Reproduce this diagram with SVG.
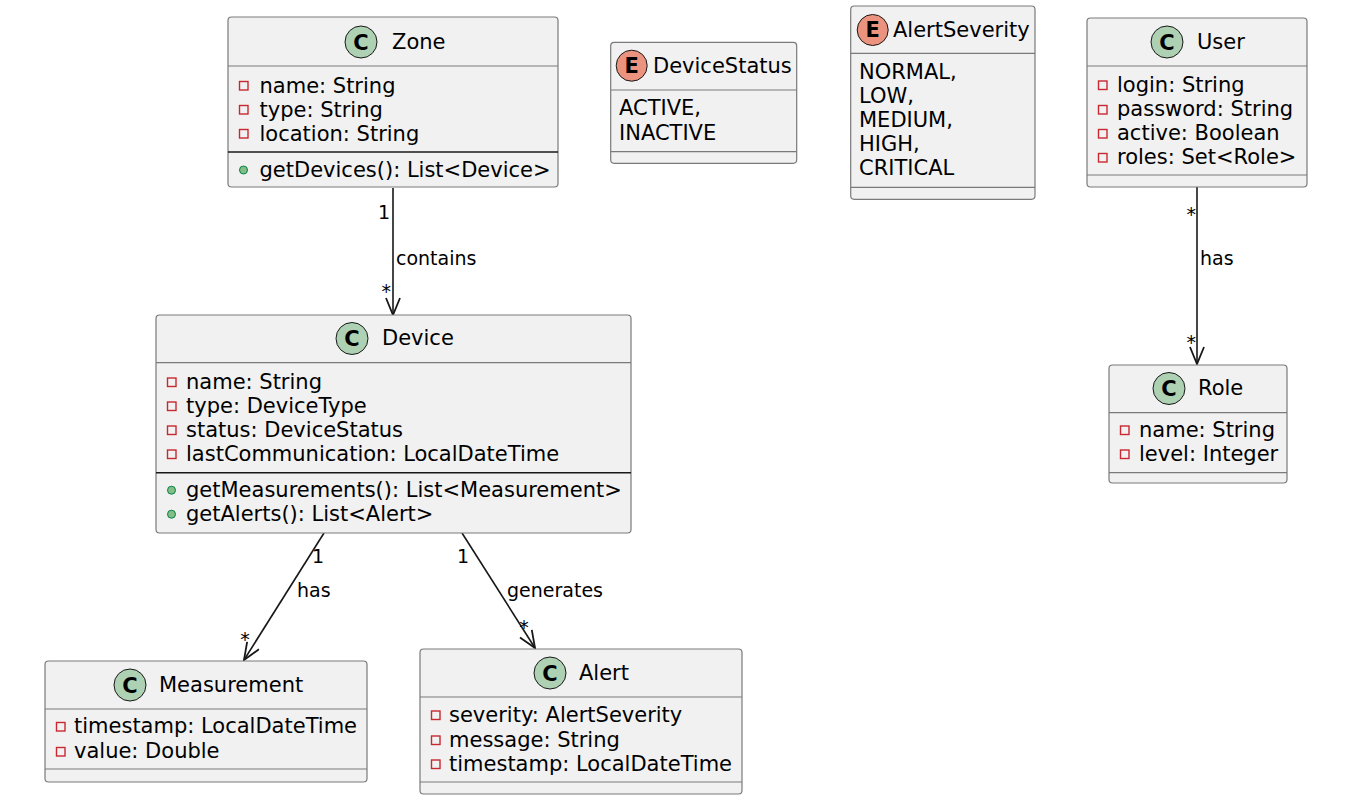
<svg xmlns="http://www.w3.org/2000/svg" width="1351" height="801" viewBox="0 0 1351 801">
<defs>
<style>
text{font-family:"DejaVu Sans","Liberation Sans",sans-serif;fill:#000}
.box{fill:#F1F1F1;stroke:#7a7a7a;stroke-width:1.2}
.sep{stroke:#7a7a7a;stroke-width:1.2}
.msep{stroke:#181818;stroke-width:1.5}
.t{font-size:21px}
.lbl{font-size:19px}
.cc{fill:#ADD1B2;stroke:#181818;stroke-width:1}
.ec{fill:#EB937F;stroke:#181818;stroke-width:1}
.ic{font-size:21px;font-weight:bold;text-anchor:middle}
.priv{fill:none;stroke:#C82930;stroke-width:1.4}
.pub{fill:#84BE84;stroke:#038048;stroke-width:1}
.edge{stroke:#181818;stroke-width:1.6;fill:none;marker-end:url(#arr)}
</style>
<marker id="arr" markerUnits="userSpaceOnUse" markerWidth="20" markerHeight="16" viewBox="0 0 20 16" refX="18" refY="8" orient="auto">
<path d="M1,1 L18,8 L1,15" fill="none" stroke="#181818" stroke-width="1.8"/>
</marker>
</defs>
<rect width="1351" height="801" fill="#fff"/>

<g id="connectors">
<path class="edge" d="M393,188 L393,315"/>
<text class="lbl" x="390" y="219" text-anchor="end">1</text>
<text class="lbl" x="396" y="265">contains</text>
<text class="lbl" x="391" y="298" text-anchor="end">*</text>

<path class="edge" d="M324,533 L244,660"/>
<text class="lbl" x="312" y="563">1</text>
<text class="lbl" x="297" y="597">has</text>
<text class="lbl" x="245" y="646" text-anchor="middle">*</text>

<path class="edge" d="M462,533 L535,648"/>
<text class="lbl" x="457" y="563">1</text>
<text class="lbl" x="507" y="597">generates</text>
<text class="lbl" x="524" y="634" text-anchor="middle">*</text>

<path class="edge" d="M1197,187 L1197,364"/>
<text class="lbl" x="1196" y="221" text-anchor="end">*</text>
<text class="lbl" x="1200" y="265">has</text>
<text class="lbl" x="1196" y="349" text-anchor="end">*</text>
</g>

<g id="Zone">
<rect class="box" x="228" y="17" width="330" height="170" rx="3.5"/>
<circle class="cc" cx="361" cy="42" r="16"/>
<text class="ic" x="361" y="49.5">C</text>
<text class="t" x="392" y="48.5">Zone</text>
<line class="sep" x1="228" y1="66" x2="558" y2="66"/>
<rect class="priv" x="239.5" y="81.5" width="8.5" height="8.5"/>
<text class="t" x="259.5" y="92.5">name: String</text>
<rect class="priv" x="239.5" y="105.5" width="8.5" height="8.5"/>
<text class="t" x="259.5" y="116.5">type: String</text>
<rect class="priv" x="239.5" y="129.5" width="8.5" height="8.5"/>
<text class="t" x="259.5" y="140.5">location: String</text>
<line class="msep" x1="228" y1="152" x2="558" y2="152"/>
<circle class="pub" cx="243.5" cy="170" r="4"/>
<text class="t" x="259.5" y="176.5">getDevices(): List&lt;Device&gt;</text>
</g>

<g id="DeviceStatus">
<rect class="box" x="610.7" y="42.3" width="186" height="121" rx="3.5"/>
<circle class="ec" cx="631.7" cy="65.7" r="15.5"/>
<text class="ic" x="631.7" y="73">E</text>
<text class="t" x="653" y="72.7">DeviceStatus</text>
<line class="sep" x1="610.7" y1="90" x2="796.7" y2="90"/>
<text class="t" x="619" y="115">ACTIVE,</text>
<text class="t" x="619" y="140">INACTIVE</text>
<line class="sep" x1="610.7" y1="151.7" x2="796.7" y2="151.7"/>
</g>

<g id="AlertSeverity">
<rect class="box" x="850.7" y="6" width="184.3" height="193.3" rx="3.5"/>
<circle class="ec" cx="872.7" cy="30" r="15.5"/>
<text class="ic" x="872.7" y="37.3">E</text>
<text class="t" x="893" y="37.3">AlertSeverity</text>
<line class="sep" x1="850.7" y1="53.3" x2="1035" y2="53.3"/>
<text class="t" x="859" y="79.3">NORMAL,</text>
<text class="t" x="859" y="103">LOW,</text>
<text class="t" x="859" y="127">MEDIUM,</text>
<text class="t" x="859" y="151">HIGH,</text>
<text class="t" x="859" y="175">CRITICAL</text>
<line class="sep" x1="850.7" y1="187.3" x2="1035" y2="187.3"/>
</g>

<g id="User">
<rect class="box" x="1087" y="18" width="220" height="169" rx="3.5"/>
<circle class="cc" cx="1167" cy="42" r="16"/>
<text class="ic" x="1167" y="49.5">C</text>
<text class="t" x="1197" y="48.5">User</text>
<line class="sep" x1="1087" y1="66" x2="1307" y2="66"/>
<rect class="priv" x="1098.5" y="81" width="8.5" height="8.5"/>
<text class="t" x="1117" y="91.7">login: String</text>
<rect class="priv" x="1098.5" y="105.5" width="8.5" height="8.5"/>
<text class="t" x="1117" y="116">password: String</text>
<rect class="priv" x="1098.5" y="129.5" width="8.5" height="8.5"/>
<text class="t" x="1117" y="140">active: Boolean</text>
<rect class="priv" x="1098.5" y="153.5" width="8.5" height="8.5"/>
<text class="t" x="1117" y="164">roles: Set&lt;Role&gt;</text>
<line class="sep" x1="1087" y1="175" x2="1307" y2="175"/>
</g>

<g id="Role">
<rect class="box" x="1109" y="365" width="178" height="118" rx="3.5"/>
<circle class="cc" cx="1169" cy="388.5" r="16"/>
<text class="ic" x="1169" y="396">C</text>
<text class="t" x="1198" y="395">Role</text>
<line class="sep" x1="1109" y1="412.7" x2="1287" y2="412.7"/>
<rect class="priv" x="1120.5" y="426" width="8.5" height="8.5"/>
<text class="t" x="1139" y="436.7">name: String</text>
<rect class="priv" x="1120.5" y="450" width="8.5" height="8.5"/>
<text class="t" x="1139" y="460.7">level: Integer</text>
<line class="sep" x1="1109" y1="472.7" x2="1287" y2="472.7"/>
</g>

<g id="Device">
<rect class="box" x="156" y="315" width="475" height="218" rx="3.5"/>
<circle class="cc" cx="352" cy="338.5" r="16"/>
<text class="ic" x="352" y="346">C</text>
<text class="t" x="382" y="345">Device</text>
<line class="sep" x1="156" y1="362.7" x2="631" y2="362.7"/>
<rect class="priv" x="167.5" y="378" width="8.5" height="8.5"/>
<text class="t" x="186" y="388.5">name: String</text>
<rect class="priv" x="167.5" y="402" width="8.5" height="8.5"/>
<text class="t" x="186" y="412.5">type: DeviceType</text>
<rect class="priv" x="167.5" y="426" width="8.5" height="8.5"/>
<text class="t" x="186" y="436.5">status: DeviceStatus</text>
<rect class="priv" x="167.5" y="450" width="8.5" height="8.5"/>
<text class="t" x="186" y="460.5">lastCommunication: LocalDateTime</text>
<line class="msep" x1="156" y1="472.7" x2="631" y2="472.7"/>
<circle class="pub" cx="171.5" cy="490.2" r="4"/>
<text class="t" x="186" y="496.7">getMeasurements(): List&lt;Measurement&gt;</text>
<circle class="pub" cx="171.5" cy="514.2" r="4"/>
<text class="t" x="186" y="520.7">getAlerts(): List&lt;Alert&gt;</text>
</g>

<g id="Measurement">
<rect class="box" x="45" y="661" width="322" height="121" rx="3.5"/>
<circle class="cc" cx="130" cy="685" r="16"/>
<text class="ic" x="130" y="692.5">C</text>
<text class="t" x="159" y="692">Measurement</text>
<line class="sep" x1="45" y1="709" x2="367" y2="709"/>
<rect class="priv" x="56.5" y="722.5" width="8.5" height="8.5"/>
<text class="t" x="74" y="733">timestamp: LocalDateTime</text>
<rect class="priv" x="56.5" y="747.5" width="8.5" height="8.5"/>
<text class="t" x="74" y="758">value: Double</text>
<line class="sep" x1="45" y1="769" x2="367" y2="769"/>
</g>

<g id="Alert">
<rect class="box" x="420" y="649" width="322" height="145" rx="3.5"/>
<circle class="cc" cx="550" cy="673" r="16"/>
<text class="ic" x="550" y="680.5">C</text>
<text class="t" x="579" y="680">Alert</text>
<line class="sep" x1="420" y1="697" x2="742" y2="697"/>
<rect class="priv" x="431.5" y="711" width="8.5" height="8.5"/>
<text class="t" x="449" y="722">severity: AlertSeverity</text>
<rect class="priv" x="431.5" y="736" width="8.5" height="8.5"/>
<text class="t" x="449" y="747">message: String</text>
<rect class="priv" x="431.5" y="760" width="8.5" height="8.5"/>
<text class="t" x="449" y="771">timestamp: LocalDateTime</text>
<line class="sep" x1="420" y1="782" x2="742" y2="782"/>
</g>
</svg>
